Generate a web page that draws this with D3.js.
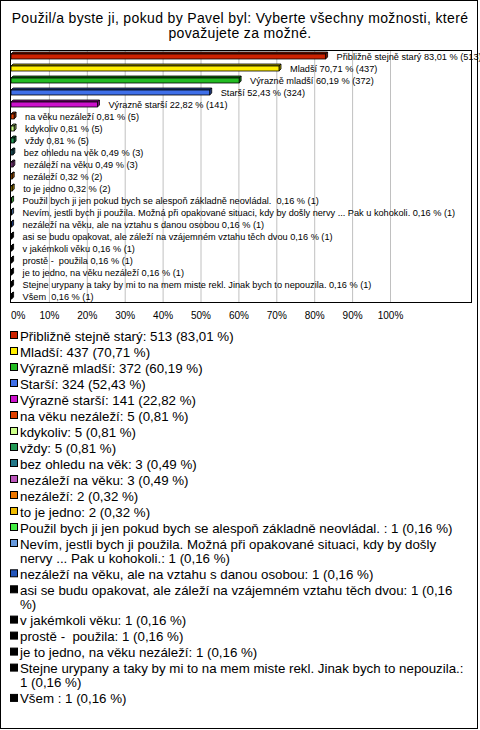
<!DOCTYPE html>
<html><head><meta charset="utf-8">
<script src="https://cdn.jsdelivr.net/npm/d3@7"></script>
<style>body{margin:0;background:#fff} svg{display:block} text{white-space:pre}</style>
</head><body>
<script>
const titleLines = ["Použil/a byste ji, pokud by Pavel byl: Vyberte všechny možnosti, které", "považujete za možné."];
const categories = [
  "Přibližně stejně starý", "Mladší", "Výrazně mladší", "Starší", "Výrazně starší",
  "na věku nezáleží", "kdykoliv", "vždy", "bez ohledu na věk", "nezáleží na věku",
  "nezáleží", "to je jedno", "Použil bych ji jen pokud bych se alespoň základně neovládal. ",
  "Nevím, jestli bych ji použila. Možná při opakované situaci, kdy by došly nervy ... Pak u kohokoli.",
  "nezáleží na věku, ale na vztahu s danou osobou", "asi se budu opakovat, ale záleží na vzájemném vztahu těch dvou",
  "v jakémkoli věku", "prostě -  použila", "je to jedno, na věku nezáleží",
  "Stejne urypany a taky by mi to na mem miste rekl. Jinak bych to nepouzila.", "Všem "
];
const counts = [513, 437, 372, 324, 141, 5, 5, 5, 3, 3, 2, 2, 1, 1, 1, 1, 1, 1, 1, 1, 1];
const percents = [83.01, 70.71, 60.19, 52.43, 22.82, 0.81, 0.81, 0.81, 0.49, 0.49, 0.32, 0.32, 0.16, 0.16, 0.16, 0.16, 0.16, 0.16, 0.16, 0.16, 0.16];
const colors = ["#cc2200", "#ffee00", "#22bb22", "#3f6fe8", "#cc11cc", "#e04000", "#ccff88", "#229955", "#227788", "#bb55bb",
  "#ee7700", "#eebb00", "#44ee44", "#6699dd", "#2255bb", "#000000", "#000000", "#000000", "#000000", "#000000", "#000000"];
const tickValues = [0, 10, 20, 30, 40, 50, 60, 70, 80, 90, 100];

const W = 480, H = 730;
const svg = d3.select("body").append("svg").attr("width", W).attr("height", H);
svg.append("rect").attr("x", 0.5).attr("y", 0.5).attr("width", 477).attr("height", 728)
  .attr("fill", "#fff").attr("stroke", "#000");

const font = "'Liberation Sans', Arial, sans-serif";
svg.append("g").selectAll("text").data(titleLines).join("text")
  .attr("x", 240).attr("y", (d, i) => 23 + i * 15)
  .attr("text-anchor", "middle").attr("font-family", font).attr("font-size", 14)
  .attr("letter-spacing", 0.35).text(d => d);

const plot = {left: 11, right: 472, top: 50, bottom: 302};
const x = d3.scaleLinear().domain([0, 100]).range([11, 390]);
const y = d3.scaleBand().domain(d3.range(categories.length)).range([plot.top, plot.bottom]);

// grid
svg.append("g").selectAll("line").data(tickValues.filter(v => v > 0)).join("line")
  .attr("x1", d => x(d) + 0.5).attr("x2", d => x(d) + 0.5)
  .attr("y1", plot.top).attr("y2", plot.bottom).attr("stroke", "#c0c0c0");

svg.append("rect").attr("x", plot.left - 0.5).attr("y", plot.top + 0.5)
  .attr("width", plot.right - plot.left).attr("height", plot.bottom - plot.top)
  .attr("fill", "none").attr("stroke", "#000");

const fmt = v => v.toFixed(2).replace(".", ",");
const depth = 2, bh = 5;
const bars = svg.append("g").selectAll("g").data(categories).join("g");
bars.each(function (c, i) {
  const g = d3.select(this);
  const x0 = x(0), x1 = x(percents[i]);
  const cy = y(i) + y.bandwidth() / 2;
  const y0 = cy - bh / 2 + 0.5, y1 = y0 + bh;
  const dark = d3.color(colors[i]).darker(1.2);
  g.append("path").attr("d", `M${x0},${y0}L${x0 + depth},${y0 - depth}L${x1 + depth},${y0 - depth}L${x1},${y0}Z`)
    .attr("fill", dark).attr("stroke", "#000").attr("stroke-width", 0.8);
  g.append("path").attr("d", `M${x1},${y0}L${x1 + depth},${y0 - depth}L${x1 + depth},${y1 - depth}L${x1},${y1}Z`)
    .attr("fill", dark).attr("stroke", "#000").attr("stroke-width", 0.8);
  g.append("rect").attr("x", x0).attr("y", y0).attr("width", Math.max(0, x1 - x0)).attr("height", bh)
    .attr("fill", colors[i]).attr("stroke", "#000").attr("stroke-width", 0.8);
  g.append("text").attr("x", x1 + 11).attr("y", cy + 4)
    .attr("font-family", font).attr("font-size", 9.2).attr("fill", "#000")
    .text(c + " " + fmt(percents[i]) + " % (" + counts[i] + ")");
});

// x tick labels
svg.append("g").selectAll("text").data(tickValues).join("text")
  .attr("x", d => d === 0 ? x(d) : x(d) + 0.5).attr("y", 319)
  .attr("text-anchor", d => d === 0 ? "start" : "middle")
  .attr("font-family", font).attr("font-size", 10).text(d => d + "%");

// legend
const legendX = 20, maxW = 446;
let ly = 336;
const lg = svg.append("g");
categories.forEach((c, i) => {
  const label = c + ": " + counts[i] + " (" + fmt(percents[i]) + " %)";
  lg.append("rect").attr("x", 10.5).attr("y", ly - 4.5).attr("width", 7).attr("height", 7)
    .attr("fill", colors[i]).attr("stroke", "#000");
  const t = lg.append("text").attr("x", legendX).attr("y", ly + 4.5)
    .attr("font-family", font).attr("font-size", 13.3);
  const words = label.split(" ");
  let line = [], lineNo = 0;
  let ts = t.append("tspan").attr("x", legendX).attr("y", ly + 4.5);
  words.forEach(w => {
    line.push(w);
    ts.text(line.join(" "));
    if (ts.node().getComputedTextLength() > maxW && line.length > 1) {
      line.pop();
      ts.text(line.join(" "));
      line = [w];
      lineNo++;
      ts = t.append("tspan").attr("x", legendX).attr("y", ly + 4.5 + lineNo * 14.3).text(w);
    }
  });
  ly += 16 + lineNo * 14.3;
});
</script>
</body></html>
